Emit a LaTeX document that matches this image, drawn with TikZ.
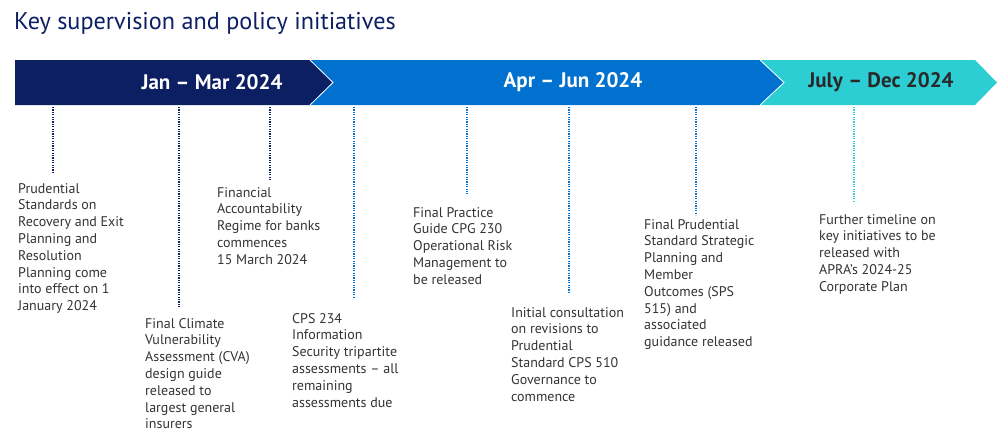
\documentclass[tikz,border=0pt]{standalone}
\usepackage{fontspec}
\setmainfont{PT Sans}
\definecolor{navy}{HTML}{0C1F63}
\definecolor{midblue}{HTML}{0071CE}
\definecolor{teal}{HTML}{2DCDD4}
\definecolor{txt}{HTML}{333333}
\tikzset{
  seg/.style={draw=white, line width=0.8pt},
  band/.style={font=\fontsize{21}{24}\selectfont\bfseries, inner sep=0pt},
  item/.style={anchor=north west, align=left, inner sep=0pt, text=txt, font=\fontsize{14}{16.8}\selectfont},
  tick/.style={line width=1.3pt, dash pattern=on 1.2pt off 1.2pt},
}
\begin{document}
\begin{tikzpicture}[x=1pt,y=-1pt]
\useasboundingbox (0,0) rectangle (1000,440);
% title
\node[anchor=base west, inner sep=0pt, text=navy, font=\fontsize{24.2}{28}\selectfont] (title) at (14,29.5) {Key supervision and policy initiatives};
% band
\fill[navy] (15,60) -- (310,60) -- (333,82.5) -- (310,105) -- (15,105) -- cycle;
\fill[midblue] (310,60) -- (760,60) -- (784,82.5) -- (760,105) -- (310,105) -- (333,82.5) -- cycle;
\fill[teal] (760,60) -- (975,60) -- (997,82.5) -- (975,105) -- (760,105) -- (784,82.5) -- cycle;
\draw[seg] (310,60) -- (333,82.5) -- (310,105);
\draw[seg] (760,60) -- (784,82.5) -- (760,105);
\node[band, text=white] (q1) at (212,82.5) {Jan – Mar 2024};
\node[band, text=white] (q2) at (573,82.5) {Apr – Jun 2024};
\node[band, text=txt!80!black] (q3) at (881,82.5) {July – Dec 2024};
% ticks
\coordinate (s1) at (53,107);  \coordinate (e1) at (53,172);
\coordinate (s2) at (179,107); \coordinate (e2) at (179,308);
\coordinate (s3) at (270,107); \coordinate (e3) at (270,180);
\coordinate (s4) at (354,107); \coordinate (e4) at (354,299);
\coordinate (s5) at (467,107); \coordinate (e5) at (467,194);
\coordinate (s6) at (569,107); \coordinate (e6) at (569,293);
\coordinate (s7) at (696,107); \coordinate (e7) at (696,215);
\coordinate (s8) at (854,107); \coordinate (e8) at (854,202);
\draw[tick, navy] (s1) -- (e1);
\draw[tick, navy] (s2) -- (e2);
\draw[tick, navy] (s3) -- (e3);
\draw[tick, midblue] (s4) -- (e4);
\draw[tick, midblue] (s5) -- (e5);
\draw[tick, midblue] (s6) -- (e6);
\draw[tick, midblue] (s7) -- (e7);
\draw[tick, teal] (s8) -- (e8);
% items
\node[item] (i1) at (18,183) {Prudential\\Standards on\\Recovery and Exit\\Planning and\\Resolution\\Planning come\\into effect on 1\\January 2024};
\node[item] (i2) at (145,318) {Final Climate\\Vulnerability\\Assessment (CVA)\\design guide\\released to\\largest general\\insurers};
\node[item] (i3) at (217,187) {Financial\\Accountability\\Regime for banks\\commences\\15 March 2024};
\node[item] (i4) at (292,313) {CPS 234\\Information\\Security tripartite\\assessments – all\\remaining\\assessments due};
\node[item] (i5) at (413,207) {Final Practice\\Guide CPG 230\\Operational Risk\\Management to\\be released};
\node[item] (i6) at (511,307) {Initial consultation\\on revisions to\\Prudential\\Standard CPS 510\\Governance to\\commence};
\node[item] (i7) at (644,219) {Final Prudential\\Standard Strategic\\Planning and\\Member\\Outcomes (SPS\\515) and\\associated\\guidance released};
\node[item] (i8) at (819,214) {Further timeline on\\key initiatives to be\\released with\\APRA’s 2024-25\\Corporate Plan};
\end{tikzpicture}
\end{document}
